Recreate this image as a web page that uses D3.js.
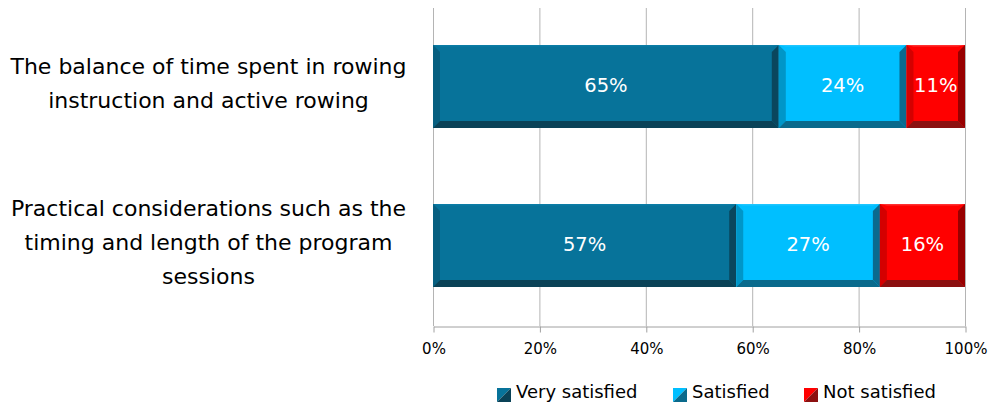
<!DOCTYPE html>
<html>
<head>
<meta charset="utf-8">
<script src="https://cdn.jsdelivr.net/npm/d3@7/dist/d3.min.js"></script>
<style>
  html, body { margin: 0; padding: 0; background: #fff; }
  svg { display: block; font-family: "DejaVu Sans", sans-serif; }
</style>
</head>
<body>
<svg id="chart" width="988" height="404"></svg>
<script>
// Survey items (each label split into its display lines)
const categories = [
  "The balance of time spent in rowing instruction and active rowing",
  "Practical considerations such as the timing and length of the program sessions"
];
const categoryLines = [
  ["The balance of time spent in rowing", "instruction and active rowing"],
  ["Practical considerations such as the", "timing and length of the program", "sessions"]
];
const seriesNames = ["Very satisfied", "Satisfied", "Not satisfied"];
const verySatisfied = [65, 57];
const satisfied = [24, 27];
const notSatisfied = [11, 16];
const tickValues = [0, 20, 40, 60, 80, 100];

// Bevelled fill palettes: face, top, left, right, bottom
const palettes = [
  { face: "#07739a", top: "#0b7ca5", left: "#075f80", right: "#0a465d", bottom: "#0a4257" },
  { face: "#00bfff", top: "#1ec6ff", left: "#0096c8", right: "#0a6a8f", bottom: "#0a6a8c" },
  { face: "#ff0000", top: "#ff3030", left: "#d40000", right: "#980000", bottom: "#8c1010" }
];

const svg = d3.select("#chart");
const plotLeft = 433, plotRight = 965, plotTop = 8, plotBottom = 326;

const x = d3.scaleLinear().domain([0, 100]).range([plotLeft, plotRight]);
const y = d3.scaleBand().domain(categories).range([plotTop - 1, plotBottom - 1])
  .paddingInner(0.478).paddingOuter(0.239);

// Vertical gridlines
svg.append("g").selectAll("line").data(tickValues).join("line")
  .attr("x1", d => x(d) + 0.5).attr("x2", d => x(d) + 0.5)
  .attr("y1", plotTop).attr("y2", plotBottom)
  .attr("stroke", "#b4b4b4").attr("stroke-width", 1);

// Bottom axis
const axis = svg.append("g").attr("transform", `translate(0.5,${plotBottom + 0.5})`)
  .call(d3.axisBottom(x).tickValues(tickValues).tickFormat(d => d + "%").tickSize(6).tickSizeOuter(0));
axis.select(".domain").attr("stroke", "#a0a0a0");
axis.selectAll(".tick line").attr("stroke", "#a0a0a0");
axis.selectAll(".tick text").attr("font-size", 15).attr("fill", "#000")
  .attr("font-family", "DejaVu Sans, sans-serif").attr("y", 27).attr("dy", 0);

// Stack the series
const rows = categories.map((c, i) => ({
  cat: c,
  vals: [verySatisfied[i], satisfied[i], notSatisfied[i]]
}));
const segments = [];
rows.forEach(r => {
  let acc = 0;
  r.vals.forEach((v, k) => {
    segments.push({ cat: r.cat, k, v, x0: acc, x1: acc + v });
    acc += v;
  });
});

const b = 7; // bevel width
const bars = svg.append("g");
segments.forEach(s => {
  const x0 = x(s.x0), x1 = x(s.x1);
  const y0 = y(s.cat), y1 = y(s.cat) + y.bandwidth();
  const p = palettes[s.k];
  const g = bars.append("g");
  g.append("rect").attr("x", x0).attr("y", y0).attr("width", x1 - x0).attr("height", y1 - y0).attr("fill", p.face);
  const poly = (pts, fill) => g.append("polygon").attr("points", pts.map(q => q.join(",")).join(" ")).attr("fill", fill);
  poly([[x0, y0], [x1, y0], [x1 - b, y0 + 1.5], [x0 + b, y0 + 1.5]], p.top);
  poly([[x0, y0], [x0 + b, y0 + b], [x0 + b, y1 - b], [x0, y1]], p.left);
  poly([[x1, y0], [x1, y1], [x1 - b, y1 - b], [x1 - b, y0 + b]], p.right);
  poly([[x0, y1], [x0 + b, y1 - b], [x1 - b, y1 - b], [x1, y1]], p.bottom);
  g.append("text")
    .attr("x", (x0 + x1) / 2).attr("y", (y0 + y1) / 2 - 1)
    .attr("text-anchor", "middle").attr("dominant-baseline", "central")
    .attr("fill", "#fff").attr("font-size", 19.5)
    .text(s.v + "%");
});

// Category labels
const lineH = 34;
categories.forEach((c, i) => {
  const lines = categoryLines[i];
  const cy = y(c) + y.bandwidth() / 2;
  const t = svg.append("text").attr("text-anchor", "middle")
    .attr("font-size", 22).attr("fill", "#000");
  lines.forEach((ln, j) => {
    t.append("tspan").attr("x", 208.5)
      .attr("y", cy + (j - (lines.length - 1) / 2) * lineH + 4)
      .text(ln);
  });
});

// Legend
const legendX = [497, 673, 804];
const legend = svg.append("g");
seriesNames.forEach((n, k) => {
  const p = palettes[k];
  const lx = legendX[k], ly = 388, s = 14;
  legend.append("polygon").attr("points", `${lx},${ly} ${lx + s},${ly} ${lx},${ly + s}`).attr("fill", p.face);
  legend.append("polygon").attr("points", `${lx + s},${ly} ${lx + s},${ly + s} ${lx},${ly + s}`).attr("fill", p.bottom);
  legend.append("text").attr("x", lx + s + 5).attr("y", 398)
    .attr("font-size", 18).attr("fill", "#000")
    .text(n);
});
</script>
</body>
</html>
